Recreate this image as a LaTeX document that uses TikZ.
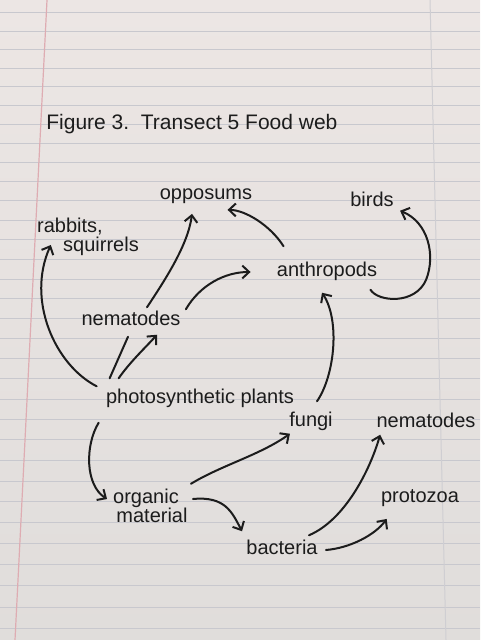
\documentclass[tikz,border=0pt]{standalone}
\usepackage{fontspec}
\setmainfont{Liberation Sans}
\usetikzlibrary{arrows.meta,calc}
\definecolor{paperT}{RGB}{236,230,228}
\definecolor{paperB}{RGB}{224,221,219}
\definecolor{rule}{RGB}{200,200,206}
\definecolor{margin}{RGB}{222,172,178}
\definecolor{ink}{RGB}{28,28,28}
\tikzset{
  lbl/.style={inner sep=0.5pt, text=ink, font=\fontsize{10}{9.5}\selectfont},
  ttl/.style={inner sep=0.5pt, text=ink, font=\fontsize{10.5}{12}\selectfont, anchor=west},
  eat/.style={draw=ink, line width=1pt, line cap=round, -{Straight Barb[length=3.4pt,width=6.4pt,line width=1pt]}},
  plain/.style={draw=ink, line width=1pt, line cap=round},
}
\begin{document}
\begin{tikzpicture}[x=0.5pt,y=-0.5pt]
\useasboundingbox (0,0) rectangle (480,640);
% lined paper
\shade[top color=paperT,bottom color=paperB] (0,0) rectangle (480,640);
\foreach \n in {0,...,33}{
  \pgfmathsetmacro{\yy}{13+18.3*\n+0.05*\n*\n}
  \draw[rule, line width=0.5pt] (0,\yy) -- (480,\yy);
}
\draw[margin, line width=0.6pt] (47,0) -- (15,640);
\draw[rule!80!paperT, line width=0.5pt] (430,0) -- (446,640);
% title
\node[ttl] (title) at (45,124) {Figure 3.\ \ Transect 5 Food web};
% nodes
\node[lbl] (opp) at (206,196) {opposums};
\node[lbl] (birds) at (372,199) {birds};
\node[lbl, align=left] (rab) at (88,237) {rabbits,\\\hspace*{1.3em}squirrels};
\node[lbl] (anth) at (327,271) {anthropods};
\node[lbl] (nemA) at (131,318) {nematodes};
\node[lbl] (plants) at (200,398) {photosynthetic plants};
\node[lbl] (fungi) at (311,421) {fungi};
\node[lbl] (nemB) at (426,420) {nematodes};
\node[lbl, align=center] (org) at (152,506) {\hspace*{-0.6em}organic\\material};
\node[lbl] (proto) at (420,498) {protozoa};
\node[lbl] (bact) at (282,547) {bacteria};
% connectors
\draw[eat] ($(plants.north west)+(-8,-1)$) .. controls (55,365) and (26,300) .. ($(rab.west)+(15,8)$);
\draw[plain] ($(plants.north west)+(5,-9)$) -- ($(nemA.south)+(-3,10)$);
\draw[eat] ($(plants.north west)+(14,-9)$) .. controls (130,362) and (145,348) .. ($(nemA.south)+(26,8)$);
\draw[eat] ($(nemA.north)+(16,-2)$) .. controls (165,280) and (188,245) .. ($(opp.south)+(-14,9)$);
\draw[eat] ($(nemA.north east)+(4,0)$) .. controls (200,285) and (225,272) .. ($(anth.west)+(-25,1)$);
\draw[eat] ($(anth.north west)+(8,-14)$) .. controls (270,225) and (245,210) .. ($(opp.south east)+(-26,5)$);
\draw[eat] ($(anth.south east)+(-8,8)$) .. controls (378,302) and (415,305) .. (426,280) .. controls (436,255) and (428,222) .. ($(birds.south east)+(5,3)$);
\draw[eat] ($(fungi.north)+(6,-9)$) .. controls (335,375) and (340,320) .. ($(anth.south)+(-5,11)$);
\draw[eat] ($(plants.south west)+(-6,14)$) .. controls (85,445) and (85,485) .. ($(org.west)+(-8,-7)$);
\draw[eat] ($(org.north east)+(2,-4)$) .. controls (222,465) and (260,455) .. ($(fungi.south west)+(2,2)$);
\draw[eat] ($(org.east)+(4,-7)$) .. controls (225,496) and (232,512) .. ($(bact.north west)+(-3,-7)$);
\draw[eat] ($(bact.north east)+(-10,-3)$) .. controls (345,520) and (370,470) .. ($(nemB.south west)+(5,6)$);
\draw[eat] ($(bact.east)+(7,3)$) .. controls (350,548) and (375,535) .. ($(proto.south west)+(7,11)$);
\end{tikzpicture}
\end{document}
